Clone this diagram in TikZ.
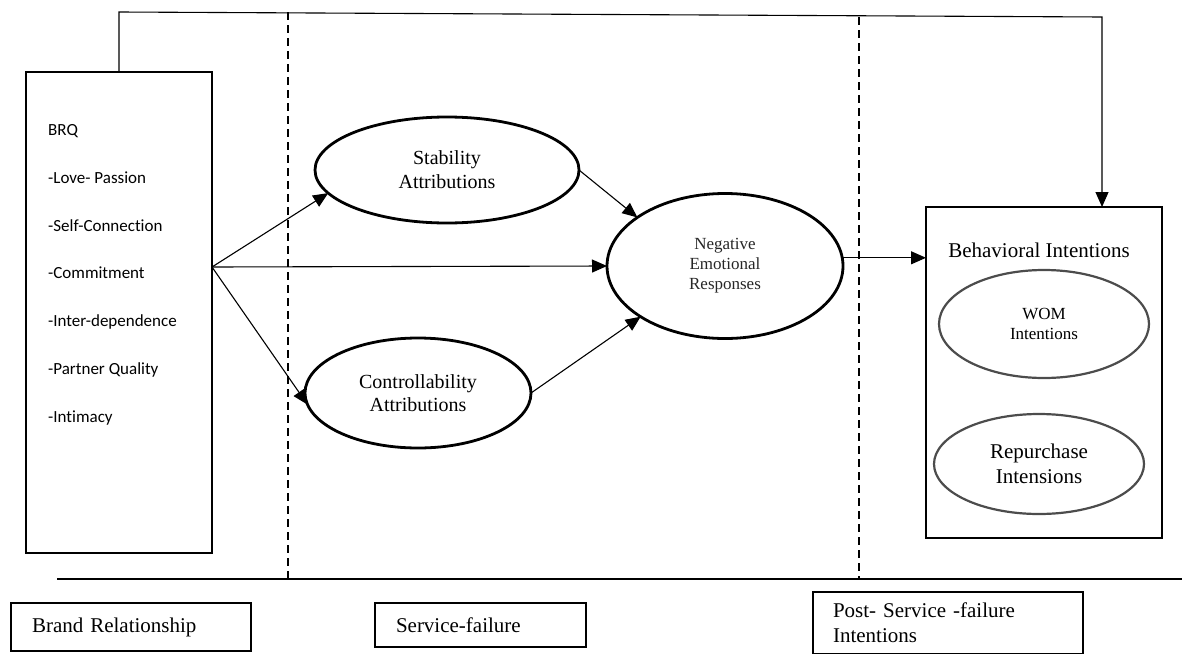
\documentclass[tikz,border=0pt]{standalone}
\usepackage{fontspec}
\setmainfont{Liberation Serif}
\newfontfamily\calib[Ligatures=NoCommon]{Carlito}
\usetikzlibrary{shapes.geometric,arrows.meta}
\begin{document}
\begin{tikzpicture}[x=1pt,y=-1pt,
  frame/.style={draw,line width=2.6pt,inner sep=0pt,outer sep=0pt},
  oval/.style={ellipse,draw,line width=2.8pt,inner sep=0pt,outer sep=0pt,align=center},
  suboval/.style={ellipse,draw=black!70,line width=2.2pt,inner sep=0pt,outer sep=0pt,align=center},
  link/.style={line width=1.1pt,-{Triangle[length=15pt,width=13pt]}},
  divider/.style={line width=1.8pt,dash pattern=on 8pt off 5pt},
  item/.style={anchor=west,inner sep=0pt,font=\calib\fontsize{17}{20}\selectfont},
  stage/.style={draw,line width=1.2pt,outer sep=0pt,inner ysep=0pt,align=left,
    font=\fontsize{21}{25}\selectfont}
]
\useasboundingbox (0,0) rectangle (1182,653);

% brand relationship quality box with its dimensions
\node[frame,minimum width=186pt,minimum height=481pt] (lbox) at (119,312.5) {};
\node[item] (i1) at (48,131) {BRQ};
\node[item] (i2) at (48,178) {-Love- Passion};
\node[item] (i3) at (48,226) {-Self-Connection};
\node[item] (i4) at (48,273) {-Commitment};
\node[item] (i5) at (48,322) {-Inter-dependence};
\node[item] (i6) at (48,370) {-Partner Quality};
\node[item] (i7) at (48,418) {-Intimacy};

% attribution and emotion constructs
\node[oval,minimum width=264pt,minimum height=106pt,font=\fontsize{20}{24}\selectfont]
  (stab) at (447,170) {Stability\\Attributions};
\node[oval,minimum width=226pt,minimum height=110pt,font=\fontsize{20}{23}\selectfont]
  (ctrl) at (418,393) {Controllability\\Attributions};
\node[oval,minimum width=236pt,minimum height=145pt,font=\fontsize{17}{20}\selectfont,text=black!85]
  (ner) at (725,266) {Negative\\Emotional\\Responses};

% behavioural intentions box
\node[frame,minimum width=236pt,minimum height=331pt] (rbox) at (1044,372.5) {};
\node[inner sep=0pt,font=\fontsize{21}{25}\selectfont] (bi) at (1039,250) {Behavioral Intentions};
\node[suboval,minimum width=210pt,minimum height=108pt,font=\fontsize{17}{20}\selectfont]
  (wom) at (1044,324) {WOM\\Intentions};
\node[suboval,minimum width=210pt,minimum height=100pt,font=\fontsize{21}{25}\selectfont]
  (rep) at (1039,464) {Repurchase\\Intensions};

% stage dividers
\coordinate (d1t) at (288,12);
\coordinate (d1b) at (288,579);
\coordinate (d2t) at (859,17);
\coordinate (d2b) at (859,579);
\draw[divider] (d1t) -- (d1b);
\draw[divider] (d2t) -- (d2b);
\coordinate (baseL) at (57,579);
\coordinate (baseR) at (1182,579);
\draw[line width=1.6pt] (baseL) -- (baseR);

% paths of the model
\coordinate (fanrow) at (0,267);
\coordinate (fan) at (lbox.east |- fanrow);
\draw[link] (fan) -- (stab.191);
\draw[link] (fan) -- (ner.west);
\draw[link] (fan) -- (ctrl.186);
\draw[link] (stab.east) -- (ner.151);
\draw[link] (ctrl.east) -- (ner.211);
\draw[link] (ner.4) -- (ner.4 -| rbox.west);

% direct path from BRQ to behavioural intentions
\coordinate (tl) at (119,12);
\coordinate (tr) at (1102,17);
\draw[link] (lbox.north) -- (tl) -- (tr) -- (tr |- rbox.north);

% stage labels
\node[stage,text width=198pt,inner xsep=21pt,minimum height=48pt] (s1) at (131,627) {Brand Relationship};
\node[stage,text width=169pt,inner xsep=21pt,minimum height=44pt] (s2) at (480.5,625) {Service-failure};
\node[stage,text width=230pt,inner xsep=20pt,minimum height=62pt] (s3) at (948,623) {Post- Service -failure\\Intentions};
\end{tikzpicture}
\end{document}
